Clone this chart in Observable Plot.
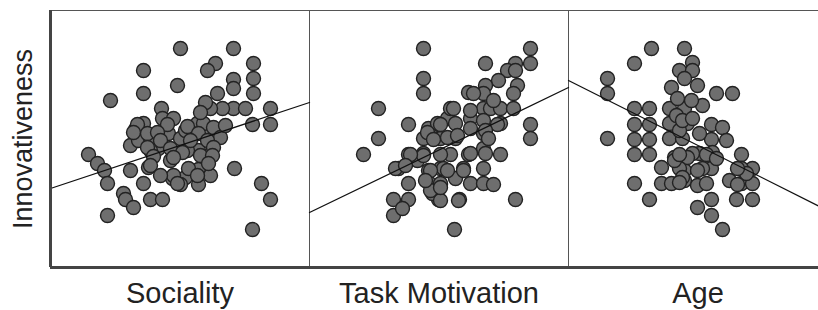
<!DOCTYPE html>
<html>
<head>
<meta charset="utf-8">
<script src="https://cdn.jsdelivr.net/npm/d3@7"></script>
<script src="https://cdn.jsdelivr.net/npm/@observablehq/plot@0.6"></script>
<style>
  html, body { margin: 0; padding: 0; background: #fff; overflow: hidden; }
  #chart svg { max-width: none !important; }
</style>
</head>
<body>
<div id="chart"></div>
<script>
// Panels (predictors), all plotted against Innovativeness
const panels = ["Sociality", "Task Motivation", "Age"];

// Points: [predictor value, innovativeness value] (arbitrary units)
const sociality = [
  [130,219],[183,219],[203,204],[165,204],[157,197],[93,197],[127,182],[183,188],[183,179],[203,189],
  [203,174],[93,174],[60,167],[167,174],[220,159],[220,143],[202,143],[183,159],[195,159],[172,159],
  [160,159],[155,165],[111,159],[38,113],[47,104],[54,97],[57,84],[80,97],[93,84],[73,74],
  [75,68],[83,60],[100,68],[112,68],[57,52],[184,99],[211,84],[220,68],[202,38],[93,144],
  [85,138],[80,122],[88,127],[100,129],[112,149],[123,149],[118,134],[130,129],[108,119],[100,117],
  [120,107],[98,100],[122,89],[128,84],[135,137],[147,144],[160,137],[165,129],[148,117],[160,113],
  [137,117],[148,98],[160,92],[135,90],[148,83],[130,83],[87,143],[117,143],[137,141],[153,144],
  [163,140],[83,135],[97,134],[107,135],[148,134],[170,130],[110,127],[157,127],[97,120],[120,119],
  [132,115],[163,120],[103,111],[123,110],[150,112],[162,112],[100,102],[138,99],[158,104],[123,92],
  [147,92],[127,84],[110,92],[140,127],[175,142],[150,155]
];
const taskMotivation = [
  [114,219],[114,189],[114,174],[69,159],[99,143],[69,129],[54,113],[176,204],[221,219],[221,204],
  [206,204],[198,197],[206,197],[208,182],[204,174],[189,187],[176,182],[159,175],[174,174],[221,143],
  [221,129],[206,68],[145,38],[150,68],[84,68],[99,68],[84,52],[93,59],[89,99],[99,84],
  [129,68],[123,74],[99,113],[114,129],[129,129],[119,139],[128,144],[114,114],[108,107],[119,97],
  [131,99],[119,85],[131,83],[131,67],[121,77],[138,149],[141,159],[144,159],[161,149],[174,159],
  [181,159],[191,159],[204,159],[191,144],[174,147],[146,144],[131,129],[146,129],[161,139],[174,134],
  [159,113],[174,119],[191,113],[141,113],[134,99],[154,99],[174,99],[161,84],[174,84],[184,83],
  [146,89],[131,84],[149,67],[161,157],[164,174],[184,167],[188,143],[176,137],[179,129],[118,135],
  [124,128],[138,130],[148,132],[161,114],[176,114],[131,113],[114,112],[101,113],[121,97],[138,97],
  [154,97],[116,87],[131,80],[131,143],[86,99],[96,102]
];
const age = [
  [83,219],[66,204],[39,189],[39,174],[39,129],[66,159],[81,159],[66,143],[81,143],[66,128],
  [81,128],[66,113],[81,113],[66,84],[81,68],[116,219],[111,197],[124,205],[124,197],[116,189],
  [103,180],[129,182],[148,174],[164,174],[101,159],[116,159],[134,162],[109,169],[123,167],[101,129],
  [114,129],[93,100],[93,84],[103,84],[116,97],[116,87],[129,82],[143,68],[129,60],[143,52],
  [154,38],[143,143],[154,140],[143,128],[131,134],[158,127],[144,115],[131,114],[124,114],[143,99],
  [134,99],[106,110],[119,110],[173,113],[184,99],[173,99],[161,87],[173,84],[184,84],[168,68],
  [184,68],[178,94],[101,144],[108,152],[119,144],[111,137],[111,99],[114,90],[106,107],[114,147],
  [124,149],[111,113],[138,113],[148,109],[129,97],[111,85],[138,84],[169,99],[169,83]
];

// Fitted regression line: innovativeness at the low and high end of each predictor
const fitStart = [79, 55, 187];
const fitEnd = [165, 180, 57];

const xDomain = [0, 259];
const yDomain = [0, 257];

const series = [sociality, taskMotivation, age];
const points = panels.flatMap((p, i) => series[i].map(([x, y]) => ({panel: p, x, y})));
const fits = panels.flatMap((p, i) => [
  {panel: p, x: xDomain[0], y: fitStart[i]},
  {panel: p, x: xDomain[1], y: fitEnd[i]}
]);

const chart = Plot.plot({
  width: 827,
  height: 310,
  marginTop: 10,
  marginBottom: 43,
  marginLeft: 50,
  marginRight: 0,
  style: {fontFamily: "'Liberation Sans', Arial, sans-serif", background: "white", color: "#222", maxWidth: "none"},
  fx: {domain: panels, padding: 0, label: null},
  x: {domain: xDomain, axis: null},
  y: {domain: yDomain, axis: null},
  marks: [
    Plot.frame({stroke: "#555", strokeWidth: 1}),
    Plot.dot(points, {fx: "panel", x: "x", y: "y", r: 7, fill: "#6e6e6e", stroke: "#222", strokeWidth: 1.4}),
    Plot.line(fits, {fx: "panel", x: "x", y: "y", z: "panel", stroke: "#111", strokeWidth: 1.3}),
    Plot.ruleY([yDomain[0]], {stroke: "#444", strokeWidth: 3}),
    Plot.ruleX([{panel: panels[0], x: xDomain[0]}], {fx: "panel", x: "x", stroke: "#444", strokeWidth: 3}),
    Plot.axisFx({anchor: "bottom", tickSize: 0, tickPadding: 15, fontSize: 29, label: null, fill: "#222"}),
    Plot.text([{panel: panels[0]}], {
      fx: "panel", frameAnchor: "left", text: () => "Innovativeness",
      rotate: -90, dx: -27, fontSize: 27, textAnchor: "middle", lineAnchor: "middle", fill: "#222"
    })
  ]
});
document.getElementById("chart").append(chart);
</script>
</body>
</html>
